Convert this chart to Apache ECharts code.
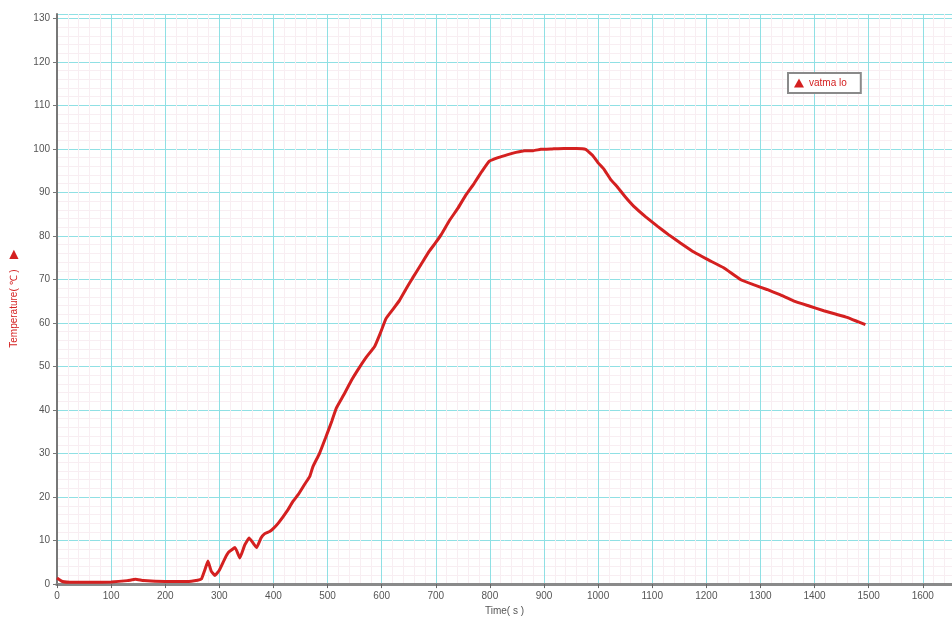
<!DOCTYPE html>
<html>
<head>
<meta charset="utf-8">
<script src="https://cdn.jsdelivr.net/npm/echarts@6/dist/echarts.min.js"></script>
<style>
html,body{margin:0;padding:0;background:#fff;}
#c{width:952px;height:621px;}
</style>
</head>
<body>
<div id="c"></div>
<script>
const seriesName = 'vatma lo';
const timeS = [0,10,30,60,100,130,145,160,200,240,260,267,273,279,285,292,300,310,317,329,338,347,355,362,369,377,384,393,400,409,427,436,446,458,467,473,485,496,508,516,530,545,559,572,587,597,608,620,633,645,657,673,688,700,710,725,741,756,771,785,799,815,833,848,864,880,894,915,937,960,977,990,1000,1011,1023,1036,1050,1066,1088,1110,1130,1152,1177,1202,1232,1263,1287,1312,1336,1361,1390,1417,1440,1460,1480,1494];
const tempC = [1.4,0.6,0.4,0.4,0.5,0.8,1.1,0.8,0.6,0.6,0.9,1.2,3.2,5.3,3.0,2.0,3.2,5.8,7.3,8.4,6.0,9.0,10.6,9.5,8.4,10.6,11.6,12.1,12.8,14,17.1,19,20.6,23,24.7,27,30,33.5,37.5,40.4,43.5,47,49.8,52.2,54.6,57.5,61,63,65.2,67.8,70.3,73.5,76.5,78.5,80.3,83.5,86.4,89.5,92.1,94.8,97.2,98.0,98.7,99.2,99.6,99.6,99.9,100,100.1,100.1,99.9,98.5,96.8,95.3,93,91.2,89,86.8,84.4,82.2,80.3,78.4,76.3,74.6,72.7,70,68.8,67.7,66.5,65.1,63.9,62.8,62,61.3,60.3,59.6];

const data = timeS.map((t, i) => [t, tempC[i]]);
const chart = echarts.init(document.getElementById('c'), null, {renderer: 'canvas'});
const major = '#8fe0e4';
const minor = '#f8eef2';
chart.setOption({
  animation: false,
  backgroundColor: '#ffffff',
  textStyle: {fontFamily: 'Liberation Sans, Arial, sans-serif'},
  grid: {left: 55, right: 0, top: 14, bottom: 33, containLabel: false},
  legend: {
    left: 788, top: 73,
    padding: [5, 14, 5, 6],
    borderColor: '#8a8a8a', borderWidth: 2,
    backgroundColor: '#fff',
    itemWidth: 10, itemHeight: 9, itemGap: 6,
    icon: 'triangle',
    textStyle: {color: '#d42020', fontSize: 10},
    data: [seriesName]
  },
  xAxis: [{
    type: 'value', min: 0, max: 1654, interval: 100,
    name: 'Time( s )', nameLocation: 'middle', nameGap: 21,
    nameTextStyle: {color: '#555', fontSize: 10},
    axisLine: {show: true, onZero: false, lineStyle: {color: '#666', width: 3}},
    axisTick: {show: true, length: 4, lineStyle: {color: '#666'}},
    axisLabel: {color: '#555', fontSize: 10, margin: 7, showMaxLabel: false, formatter: v => String(v)},
    splitLine: {show: true, lineStyle: {color: major, width: 1}},
    minorTick: {show: false, splitNumber: 5},
    minorSplitLine: {show: true, lineStyle: {color: minor, width: 1}}
  }, {
    type: 'value', position: 'top', min: 0, max: 1654,
    axisLine: {show: true, lineStyle: {color: '#8a8a8a', width: 3}},
    axisTick: {show: false}, axisLabel: {show: false}, splitLine: {show: false}
  }],
  yAxis: {
    type: 'value', min: 0, max: 131, interval: 10,
    name: '{t|Temperature( ℃ )}   {m|▶}', nameLocation: 'middle', nameGap: 37,
    nameTextStyle: {
      color: '#d42020',
      rich: {t: {color: '#d42020', fontSize: 10}, m: {color: '#d42020', fontSize: 12}}
    },
    axisLine: {show: true, lineStyle: {color: '#777', width: 2}},
    axisTick: {show: true, length: 4, lineStyle: {color: '#777'}},
    axisLabel: {color: '#555', fontSize: 10, margin: 7, showMaxLabel: false},
    splitLine: {show: true, lineStyle: {color: major, width: 1}},
    minorTick: {show: false, splitNumber: 5},
    minorSplitLine: {show: true, lineStyle: {color: minor, width: 1}}
  },
  series: [{
    name: seriesName,
    type: 'line',
    data: data,
    showSymbol: false,
    symbol: 'triangle',
    smooth: 0.1,
    clip: true,
    itemStyle: {color: '#d42020'},
    lineStyle: {color: '#d42020', width: 3}
  }]
});
</script>
</body>
</html>
